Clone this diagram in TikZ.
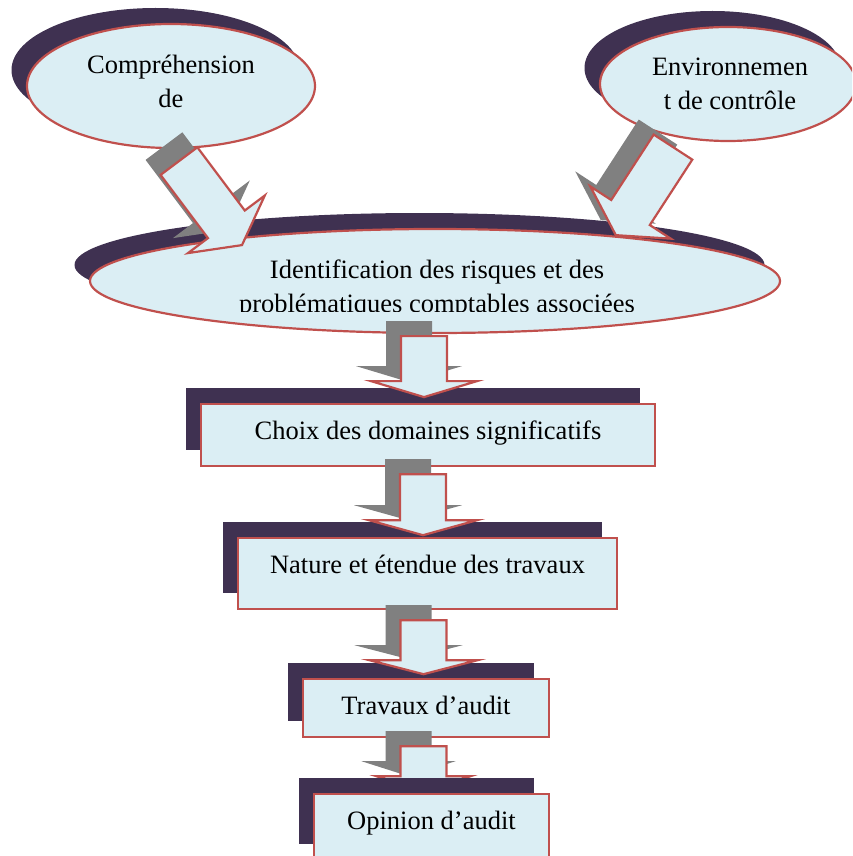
\documentclass[tikz,border=0pt]{standalone}
\usepackage{fontspec}
\setmainfont{Liberation Serif}
\usetikzlibrary{calc,shapes.geometric,shadows}

\definecolor{boxfill}{HTML}{DBEEF4}
\definecolor{boxline}{HTML}{C0504D}
\definecolor{shadowpurple}{HTML}{3F3151}
\definecolor{arrowgray}{HTML}{808080}

\tikzset{
	purpleshadow/.style={drop shadow={shadow xshift=-15.5pt, shadow yshift=16pt, fill=shadowpurple, opacity=1}},
	bubble/.style={ellipse, purpleshadow, fill=boxfill, draw=boxline, line width=2.2pt, inner sep=0pt},
	stepbox/.style={rectangle, purpleshadow, fill=boxfill, draw=boxline, line width=2.2pt, inner xsep=0pt, inner ysep=0pt, text height=35pt, anchor=north, font=\txtfont},
	txt/.style={inner sep=0pt, align=center, font=\txtfont}
}
\newcommand{\txtfont}{\fontsize{26.5}{34.5}\selectfont}

% block arrow with its gray shadow: tail, angle, shaft length, head length, head half width
\newcommand{\blockarrow}[5]{%
	\begin{scope}[shift={#1}]
	\fill[arrowgray, shift={(-15,-15)}, rotate=#2] (0,-23) -- (#3,-23) -- (#3,-#5) -- ({#3+#4},0) -- (#3,#5) -- (#3,23) -- (0,23) -- cycle;
	\filldraw[fill=boxfill, draw=boxline, line width=2.2pt, rotate=#2] (0,-23) -- (#3,-23) -- (#3,-#5) -- ({#3+#4},0) -- (#3,#5) -- (#3,23) -- (0,23) -- cycle;
	\end{scope}}

\begin{document}
\begin{tikzpicture}[x=1pt,y=-1pt]
	\useasboundingbox (0,0) rectangle (852,856);
	\clip (0,0) rectangle (852,856);

	%ellipses at the top
	\node[bubble, minimum width=288pt, minimum height=124pt] (compr) at (171,86) {};
	\node[bubble, minimum width=256pt, minimum height=114pt] (envir) at (728,84) {};
	\node[bubble, minimum width=690pt, minimum height=104pt] (ident) at (435,281) {};

	%base = baseline of the last line
	\node[txt, anchor=base] (compr-t) at (171,108) {Compréhension\\de};
	\node[txt, anchor=base] (envir-t) at (730,110) {Environnemen\\t de contrôle};
	\begin{scope}
		\clip (0,0) rectangle (852,311);	%second line is cut off
		\node[txt, anchor=base] (ident-t) at (437,312.5) {Identification des risques et des\\problématiques comptables associées};
	\end{scope}

	%steps
	\node[stepbox, minimum width=454pt, text depth=27pt] (choix) at (428,403) {Choix des domaines significatifs};
	\node[stepbox, minimum width=379pt, text depth=36pt] (nature) at (427.5,537) {Nature et étendue des travaux};
	\node[stepbox, minimum width=246pt, text depth=23pt] (travaux) at (426,678) {Travaux d'audit};

	%arrows
	\blockarrow{($(compr.south)+(8,12)$)}{-53.13}{79}{26}{48}
	\blockarrow{($(envir.south)+(-55,5)$)}{-123}{78}{27}{48}
	\blockarrow{($(ident.south)+(-11,2)$)}{-90}{45}{16}{53}
	\blockarrow{($(choix.south)+(-5,7)$)}{-90}{46}{15}{54}
	\blockarrow{($(nature.south)+(-4,10)$)}{-90}{40}{14}{54}
	\blockarrow{($(travaux.south)+(-2.5,8)$)}{-90}{30}{15}{47}

	\node[stepbox, minimum width=235pt, text depth=31pt] (opinion) at (431.5,793) {Opinion d'audit};
\end{tikzpicture}
\end{document}
